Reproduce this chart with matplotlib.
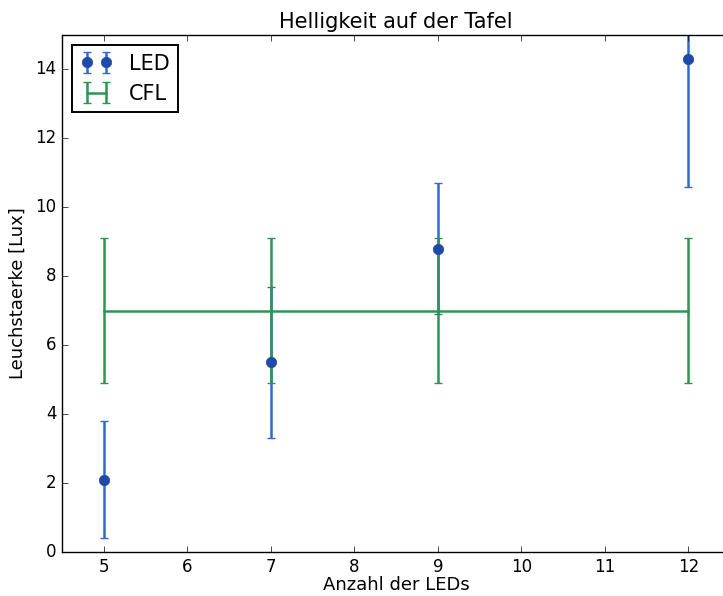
import matplotlib
matplotlib.use("Agg")
import matplotlib.pyplot as plt

plt.style.use("classic")
plt.rcParams["font.family"] = ["DejaVu Sans"]

led_x = [5, 7, 9, 12]
led_y = [2.1, 5.5, 8.8, 14.3]
led_err = [1.7, 2.2, 1.9, 3.7]

cfl_x = [5, 7, 9, 12]
cfl_y = [7.0, 7.0, 7.0, 7.0]
cfl_err = [2.1, 2.1, 2.1, 2.1]

title = "Helligkeit auf der Tafel"
xlabel = "Anzahl der LEDs"
ylabel = "Leuchstaerke [Lux]"

fig = plt.figure(figsize=(7.23, 5.96), dpi=100, facecolor="white")
ax = fig.add_axes([0.0858, 0.0738, 0.924, 0.8675])
ax.set_facecolor("white")

ax.errorbar(led_x, led_y, yerr=led_err, fmt="o", color="#2f6bd0",
            mfc="#1f4aa8", mec="#1f4aa8", ms=7.5, elinewidth=1.8,
            capsize=3, capthick=1.0, label="LED")
ax.errorbar(cfl_x, cfl_y, yerr=cfl_err, fmt="-", color="#2b9650",
            lw=1.8, elinewidth=1.8, capsize=3, capthick=1.0, label="CFL")

ax.set_xlim(4.5, 12.5)
ax.set_ylim(0, 15)
ax.set_xticks([5, 6, 7, 8, 9, 10, 11, 12])
ax.set_yticks([0, 2, 4, 6, 8, 10, 12, 14])
ax.tick_params(labelsize=12)
ax.set_title(title, fontsize=15)
ax.set_xlabel(xlabel, fontsize=13, labelpad=0)
ax.set_ylabel(ylabel, fontsize=13, labelpad=6)
leg = ax.legend(loc="upper left", numpoints=2, fontsize=15, fancybox=False,
                handlelength=1.5, borderaxespad=0.5)
leg.get_frame().set_linewidth(1.4)

fig.savefig("out.png", dpi=100, facecolor="white")
